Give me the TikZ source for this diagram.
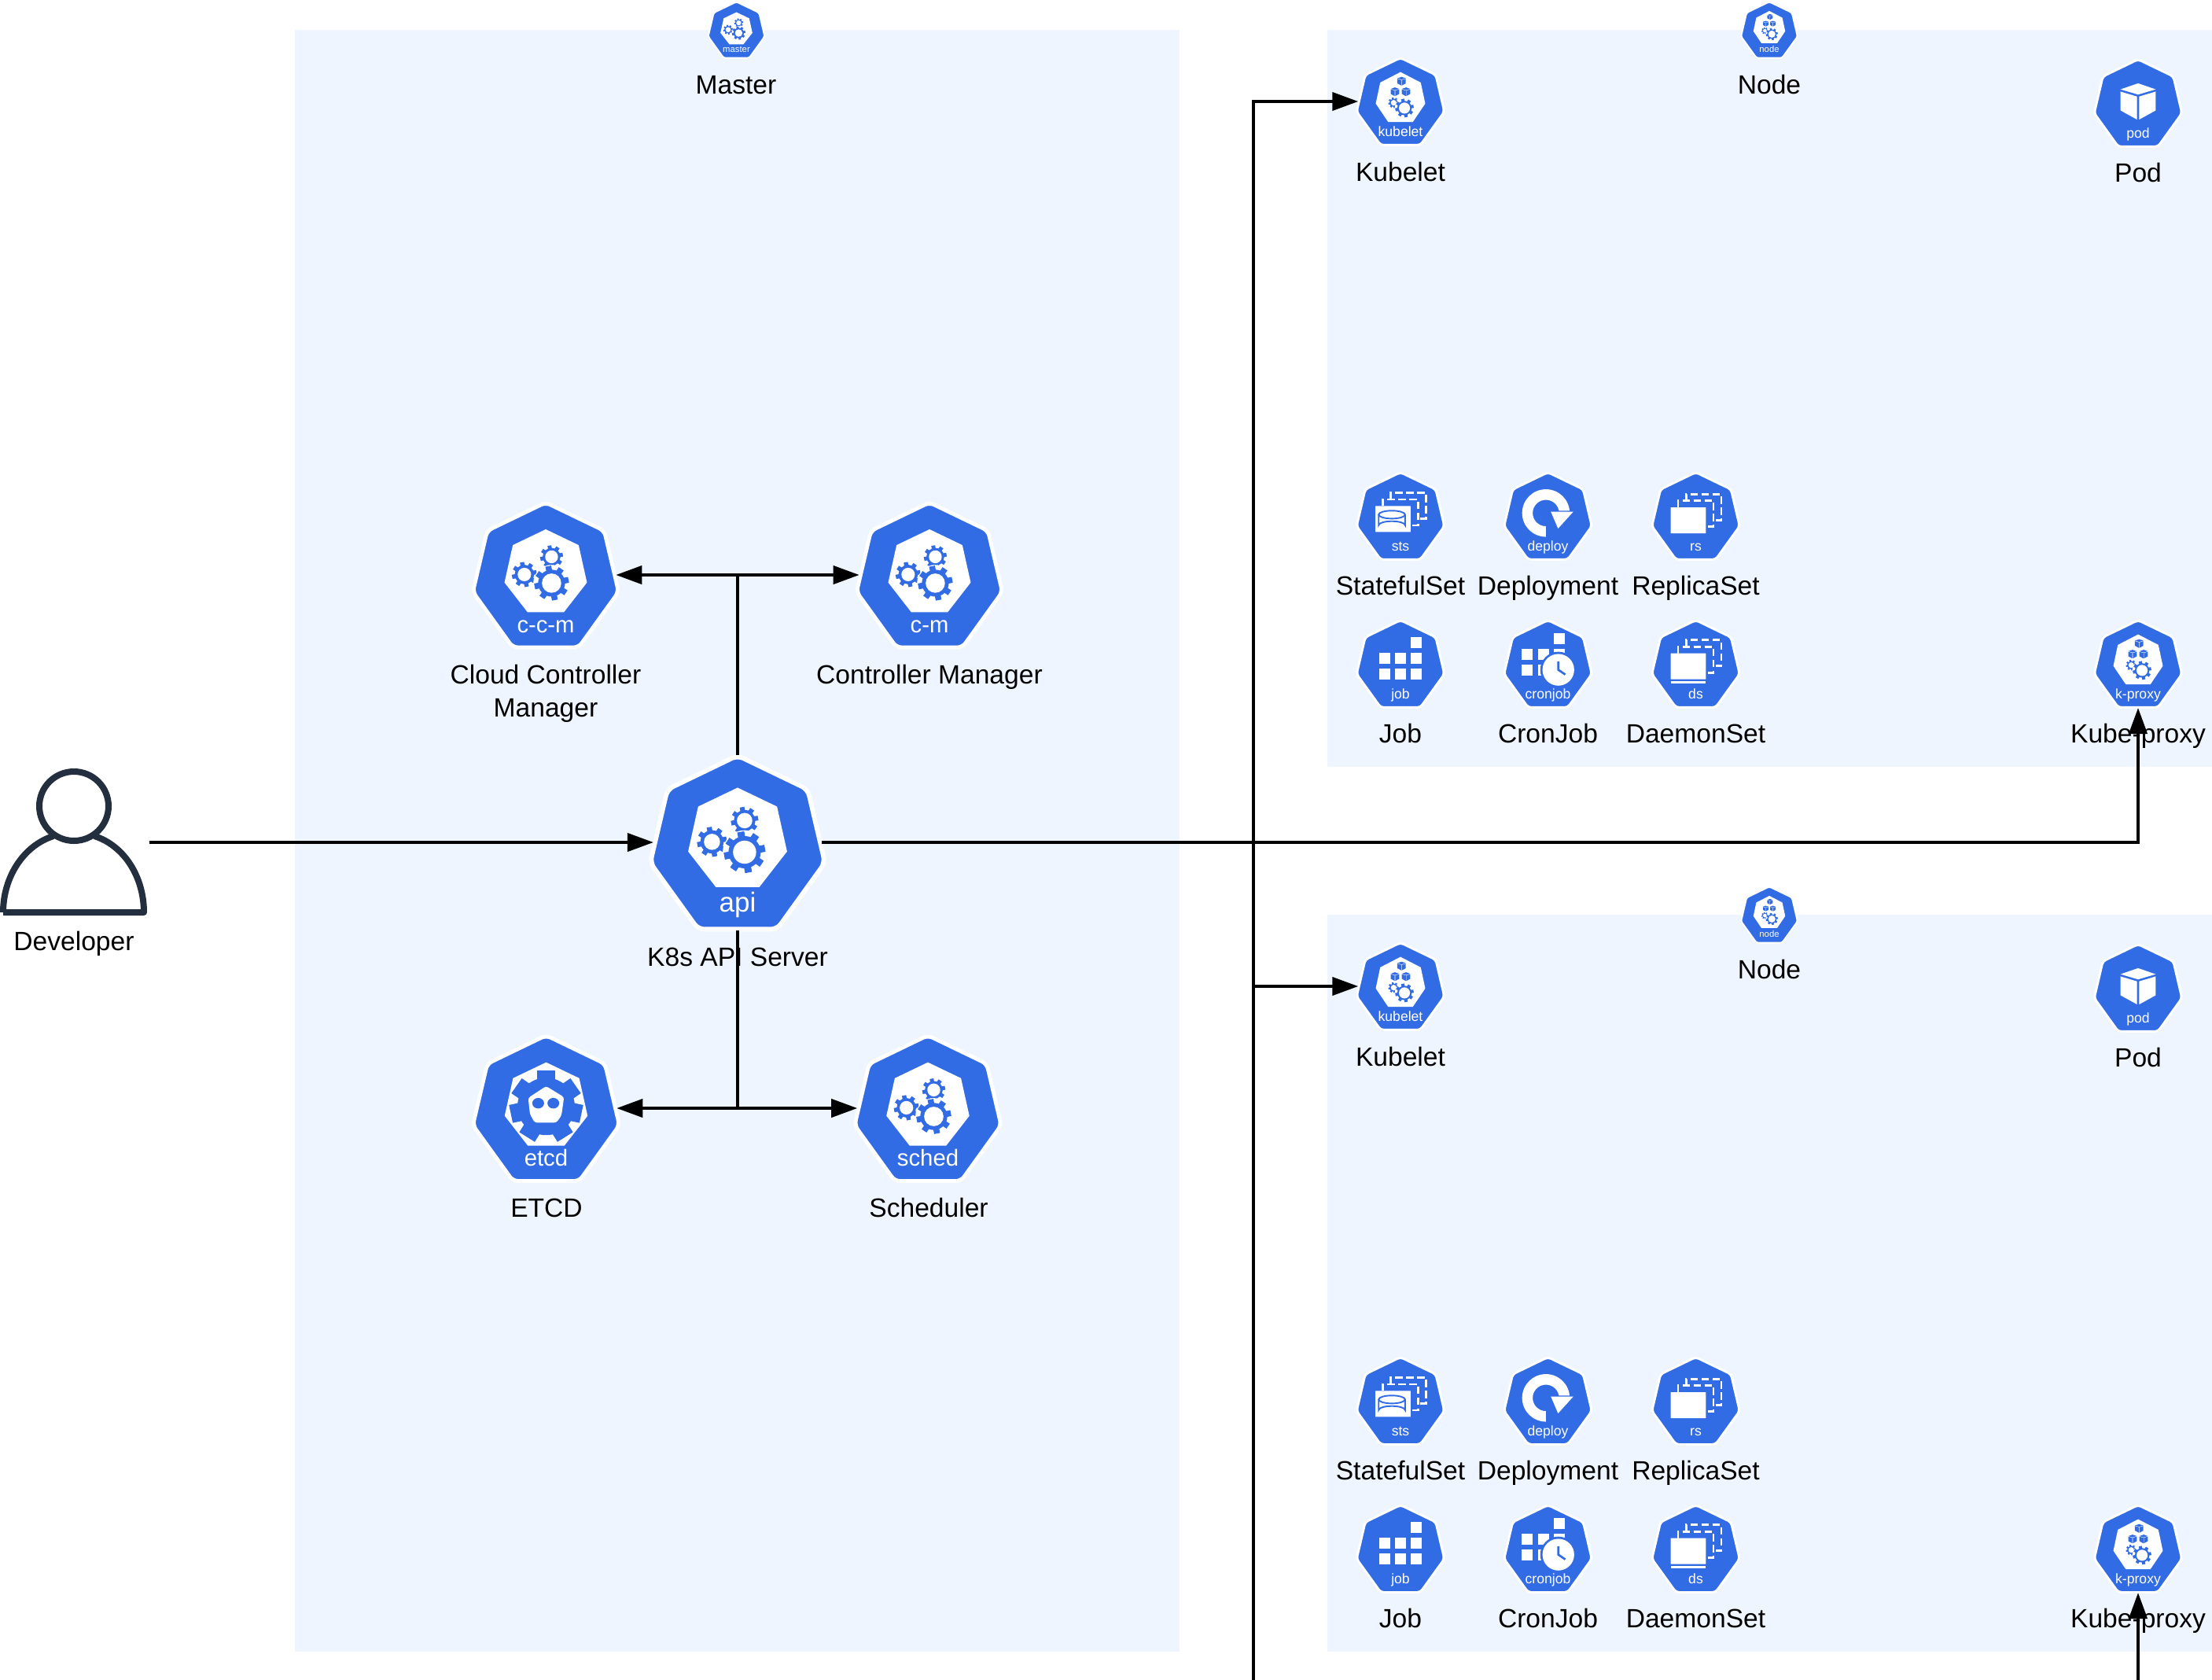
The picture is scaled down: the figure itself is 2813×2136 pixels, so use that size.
\documentclass[tikz,border=0pt]{standalone}
\usepackage{fontspec}
\setmainfont{Liberation Sans}
\usetikzlibrary{arrows.meta}
\definecolor{kblue}{HTML}{326CE5}
\definecolor{panelbg}{HTML}{EEF5FF}
\definecolor{devink}{HTML}{232F3E}
\tikzset{
  panelbox/.style={fill=panelbg,draw=none},
  kport/.style={draw=none,inner sep=0pt,outer sep=0pt,rectangle},
  lbl/.style={inner sep=0pt,outer sep=0pt,anchor=base,text=black,font=\fontsize{16.8}{20.5}\selectfont},
  lblm/.style={inner sep=0pt,outer sep=0pt,align=center,text=black,font=\fontsize{16.8}{21}\selectfont},
  wire/.style={draw=black,line width=2pt},
  arrowwire/.style={wire,-{Triangle[length=16.5pt,width=11.5pt]}},
}
% gear: cx cy R hole halo
\newcommand{\kgear}[5]{%
  \begin{scope}[shift={(#1,#2)}]
    \fill[white] (0,0) circle ({#3*#5});
    \fill[kblue] (0,0) circle ({#3*0.78});
    \foreach \a in {0,45,...,315}{
      \fill[kblue,rotate=\a+11] ({#3*0.65},{-#3*0.17}) rectangle ({#3},{#3*0.17});
    }
    \fill[white] (0,0) circle ({#4});
  \end{scope}}
% cube: cx cy scale colour
\newcommand{\kcube}[4]{%
  \begin{scope}[shift={(#1,#2)},scale=#3]
    \fill[#4] (0,-.206) -- (.2,-.137) -- (0,-.078) -- (-.2,-.137) -- cycle;
    \fill[#4] (-.2,-.112) -- (-.012,-.056) -- (-.012,.206) -- (-.2,.102) -- cycle;
    \fill[#4] (.2,-.112) -- (.012,-.056) -- (.012,.206) -- (.2,.102) -- cycle;
  \end{scope}}
\newcommand{\gInner}{%
  \fill[white] (0,-.312) -- (.225,-.204) -- (.282,.052) -- (.124,.255) -- (-.124,.255) -- (-.282,.052) -- (-.225,-.204) -- cycle;}
\newcommand{\gInnerB}{%
  \fill[white] (0,-.334) -- (.23,-.215) -- (.281,.024) -- (.14,.233) -- (-.14,.233) -- (-.281,.024) -- (-.23,-.215) -- cycle;}
\newcommand{\gThree}{%
  \gInner
  \kgear{-.146}{-.003}{.085}{.046}{1}
  \kgear{.04}{-.124}{.078}{.044}{1}
  \kgear{.04}{.056}{.118}{.066}{1.06}}
\newcommand{\gKube}{%
  \gInnerB
  \kcube{.012}{-.23}{.24}{kblue}
  \kcube{-.063}{-.11}{.24}{kblue}
  \kcube{.063}{-.11}{.24}{kblue}
  \kgear{-.078}{.015}{.06}{.032}{1}
  \kgear{.045}{.075}{.105}{.063}{1.06}}
\newcommand{\gPod}{\kcube{0}{-.018}{1}{white}}
\newcommand{\kstack}[1]{%
  \pgfmathsetmacro\ya{#1-.075}%
  \pgfmathsetmacro\yb{#1-.15}%
  \pgfmathsetmacro\yc{#1+.22}%
  \pgfmathsetmacro\yd{#1+.145}%
  \pgfmathsetmacro\ye{#1+.295}%
  \fill[white,rounded corners=.2pt] (-.285,#1) rectangle (.115,\ye);
  \draw[white,line width=\kwa,dash pattern=on \kda off \kdb] (-.2,#1) -- (-.2,\ya) -- (.2,\ya) -- (.2,\yc) -- (.115,\yc);
  \draw[white,line width=\kwa,dash pattern=on \kda off \kdb] (-.11,\ya) -- (-.11,\yb) -- (.29,\yb) -- (.29,\yd) -- (.2,\yd);}
\newcommand{\gSts}{%
  \kstack{-.113}
  \draw[kblue,line width=\kwb] (-.248,-.015) -- (-.248,.105) arc[start angle=180,end angle=360,x radius=.15,y radius=.045] -- (.052,-.015);
  \draw[kblue,line width=\kwb] (-.098,-.015) ellipse[x radius=.15,y radius=.045];}
\newcommand{\gRs}{\kstack{-.098}}
\newcommand{\gDs}{%
  \kstack{-.12}
  \fill[white] (-.285,.195) rectangle (.115,.22);}
\newcommand{\gDeploy}{%
  \fill[white] (-.023,.237) arc[start angle=90,end angle=360,radius=.27] -- (.127,-.033) arc[start angle=360,end angle=90,radius=.15] -- cycle;
  \fill[kblue] (.02,-.06) -- (.31,-.06) -- (.115,.17) -- cycle;
  \fill[white] (.033,-.048) -- (.288,-.048) -- (.115,.143) -- cycle;}
\newcommand{\ksq}[2]{\fill[white] ({#1-.062},{#2-.062}) rectangle ({#1+.062},{#2+.062});}
\newcommand{\gJob}{%
  \ksq{.177}{-.24}
  \ksq{-.18}{-.065}\ksq{0}{-.065}\ksq{.177}{-.065}
  \ksq{-.18}{.116}\ksq{0}{.116}\ksq{.177}{.116}}
\newcommand{\gCron}{%
  \ksq{.128}{-.283}
  \ksq{-.236}{-.104}\ksq{-.052}{-.104}\ksq{.128}{-.104}
  \ksq{-.236}{.074}\ksq{-.052}{.074}
  \fill[kblue] (.118,.068) circle (.205);
  \fill[white] (.118,.068) circle (.18);
  \draw[kblue,line width=\kwa] (.118,-.025) -- (.118,.068) -- (.197,.122);}
\newcommand{\gEtcd}{%
  \gInner
  \begin{scope}[shift={(0,-.012)}]
    \fill[kblue] (0,0) circle (.195);
    \foreach \a in {90,35,145,-12,192,-58,238}{
      \fill[kblue,rotate=\a] (.15,-.062) rectangle (.245,.062);
    }
  \end{scope}
  \fill[white,rounded corners=1.5pt] (0,-.15) -- (.122,-.075) -- (.104,.05) -- (.07,.098) -- (-.078,.098) -- (-.11,.04) -- (-.122,-.07) -- cycle;
  \fill[kblue] (-.054,-.034) ellipse[x radius=.04,y radius=.036];
  \fill[kblue] (.049,-.034) ellipse[x radius=.04,y radius=.036];}
% icon: name cx cy size label glyph
\newcommand{\kicon}[6]{%
  \pgfmathsetlengthmacro\kw{#4*0.5pt}%
  \pgfmathsetlengthmacro\kport{#4*0.5pt*0.96}%
  \pgfmathsetlengthmacro\kpoh{#4*0.5pt}%
  \pgfmathsetlengthmacro\krc{#4*0.5pt*0.035}%
  \pgfmathsetlengthmacro\kwo{#4*0.5pt*0.026}%
  \pgfmathsetlengthmacro\kwa{#4*0.5pt*0.024}%
  \pgfmathsetlengthmacro\kwb{#4*0.5pt*0.017}%
  \pgfmathsetlengthmacro\kda{#4*0.5pt*0.085}%
  \pgfmathsetlengthmacro\kdb{#4*0.5pt*0.04}%
  \pgfmathsetmacro\kf{#4*0.5*0.157}%
  \node[kport,minimum width=\kport,minimum height=\kpoh] (#1) at (#2,#3) {};
  \begin{scope}[shift={(#2,#3)},x=\kw,y=-\kw]
    \filldraw[fill=kblue,draw=white,line width=\kwo,rounded corners=\krc]
      (0,-.495) -- (.4,-.302) -- (.498,.116) -- (.225,.495) -- (-.225,.495) -- (-.498,.116) -- (-.4,-.302) -- cycle;
    #6
    \node[inner sep=0pt,outer sep=0pt,text=white,font=\fontsize{\kf}{\kf}\selectfont] (#1txt) at (0,.362) {\strut #5};
  \end{scope}}
\newcommand{\nodepanel}[2]{%
  \begin{scope}[shift={(0,#2)}]
    \fill[panelbox] (1688,38) rectangle (2813,975);
    \kicon{#1top}{2250}{38}{72}{node}{\gKube}
    \kicon{#1kub}{1781}{129}{112}{kubelet}{\gKube}
    \kicon{#1pod}{2719}{131}{112}{pod}{\gPod}
    \kicon{#1sts}{1781}{656}{112}{sts}{\gSts}
    \kicon{#1dep}{1968.5}{656}{112}{deploy}{\gDeploy}
    \kicon{#1rs}{2156.5}{656}{112}{rs}{\gRs}
    \kicon{#1job}{1781}{844}{112}{job}{\gJob}
    \kicon{#1cron}{1968.5}{844}{112}{cronjob}{\gCron}
    \kicon{#1ds}{2156.5}{844}{112}{ds}{\gDs}
    \kicon{#1kp}{2719}{844}{112}{k-proxy}{\gKube}
    \node[lbl] (#1topl) at (2250,119.5) {Node};
    \node[lbl] (#1kubl) at (1781,230) {Kubelet};
    \node[lbl] (#1podl) at (2719,231.5) {Pod};
    \node[lbl] (#1stsl) at (1781,756.5) {StatefulSet};
    \node[lbl] (#1depl) at (1968.5,756.5) {Deployment};
    \node[lbl] (#1rsl) at (2156.5,756.5) {ReplicaSet};
    \node[lbl] (#1jobl) at (1781,944.5) {Job};
    \node[lbl] (#1cronl) at (1968.5,944.5) {CronJob};
    \node[lbl] (#1dsl) at (2156.5,944.5) {DaemonSet};
    \node[lbl] (#1kpl) at (2719,944.5) {Kube-proxy};
  \end{scope}}
\begin{document}
\begin{tikzpicture}[x=0.5pt,y=-0.5pt]
  \useasboundingbox (0,0) rectangle (2813,2136);
  \fill[panelbox] (375,38) rectangle (1500,2100);
  \nodepanel{na}{0}
  \nodepanel{nb}{1125}
  % master
  \kicon{master}{936.5}{38}{72}{master}{\gThree}
  \node[lbl] (masterl) at (936,119) {Master};
  \kicon{ccm}{694}{731}{186}{c-c-m}{\gThree}
  \kicon{cm}{1182}{731}{186}{c-m}{\gThree}
  \kicon{api}{938}{1071}{223}{api}{\gThree}
  \kicon{etcd}{694.5}{1409}{187}{etcd}{\gEtcd}
  \kicon{sched}{1180}{1409}{187}{sched}{\gThree}
  \node[lblm] (ccml) at (694,881.5) {Cloud Controller\\Manager};
  \node[lbl] (cml) at (1182,869) {Controller Manager};
  \node[lbl] (apil) at (938,1228) {K8s API Server};
  \node[lbl] (etcdl) at (695,1547) {ETCD};
  \node[lbl] (schedl) at (1181,1547) {Scheduler};
  % developer
  \node[kport,minimum width=95pt,minimum height=20pt] (dev) at (94.5,1071) {};
  \draw[devink,line width=4pt] (94,1025) circle[radius=44];
  \draw[devink,line width=4pt,line join=round] (4,1160) .. controls (4,1115) and (30,1075) .. (68,1063)
     (120,1063) .. controls (158,1075) and (183,1115) .. (183,1160) -- (4,1160);
  \node[lbl] (devl) at (94,1208) {Developer};
  % connectors
  \coordinate (jtop) at (api.north |- ccm);
  \coordinate (jbot) at (api.south |- etcd);
  \coordinate (bus) at (1594,1071);
  \coordinate (busbot) at (1594,2136);
  \coordinate (kpbot) at (2719,2136);
  \draw[arrowwire] (dev.east) -- (api.west);
  \draw[wire] (api.north) -- (jtop);
  \draw[arrowwire] (jtop) -- (ccm.east);
  \draw[arrowwire] (jtop) -- (cm.west);
  \draw[wire] (api.south) -- (jbot);
  \draw[arrowwire] (jbot) -- (etcd.east);
  \draw[arrowwire] (jbot) -- (sched.west);
  \draw[arrowwire] (api.east) -| (nakp.south);
  \draw[arrowwire] (busbot) |- (nakub.west);
  \draw[arrowwire] (bus |- nbkub) -- (nbkub.west);
  \draw[arrowwire] (kpbot) -- (nbkp.south);
\end{tikzpicture}
\end{document}
